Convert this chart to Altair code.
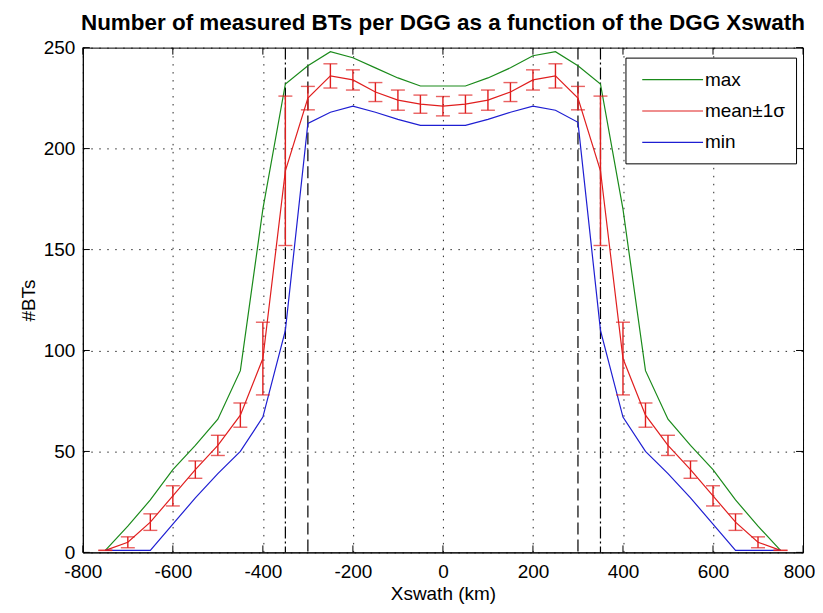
import altair as alt
import pandas as pd

# ---- data ----
xswath = list(range(-750, 751, 50))
bt_max = [1, 13, 26, 41, 53, 66, 90, 170, 232, 241, 248, 245, 240, 235, 231, 231,
          231, 235, 240, 246, 248, 241, 232, 170, 90, 66, 53, 41, 26, 13, 1]
bt_mean = [1, 5, 15, 28, 41, 53, 68, 96, 189, 225, 236, 234, 228, 224, 222, 221,
           222, 224, 228, 234, 236, 225, 189, 96, 68, 53, 41, 28, 15, 5, 1]
bt_std = [0, 2.7, 4.1, 5, 4.3, 5, 6, 18, 37, 5.8, 6, 5, 4.7, 5, 4.5, 4.8,
          4.5, 5, 4.7, 5, 6, 5.8, 37, 18, 6, 5, 4.3, 5, 4.1, 2.7, 0]
bt_min = [1, 1, 1, 14, 27, 39, 50, 67, 110, 212.5, 218, 221, 218, 214.5, 211.5, 211.5,
          211.5, 214.5, 218, 221, 219, 213, 110, 67, 50, 39, 27, 14, 1, 1, 1]

series_names = ["max", "mean\u00b11\u03c3", "min"]
series_colors = ["#1a8a1a", "#e01e1e", "#1e1ed2"]
x_ticks = [-800, -600, -400, -200, 0, 200, 400, 600, 800]
y_ticks = [0, 50, 100, 150, 200, 250]
dashed_x = [-300, 300]
dashdot_x = [-350, 350]

W, H = 722, 506
FONT = "Liberation Sans"

rows = []
for name, vals in zip(series_names, [bt_max, bt_mean, bt_min]):
    for x, v in zip(xswath, vals):
        rows.append({"x": x, "y": v, "series": name})
long_df = pd.DataFrame(rows)

err_df = pd.DataFrame({
    "x": xswath,
    "lo": [m - s for m, s in zip(bt_mean, bt_std)],
    "hi": [m + s for m, s in zip(bt_mean, bt_std)],
})

xscale = alt.Scale(domain=[-800, 800], nice=False, zero=False)
yscale = alt.Scale(domain=[0, 250], nice=False)

common = dict(grid=True, gridDash=[1.5, 6.5], gridColor="black", gridOpacity=0.85,
              tickSize=0, labelFontSize=19, titleFontSize=19, labelFont=FONT,
              titleFont=FONT, titleFontWeight="normal", labelColor="black",
              titleColor="black", domainColor="black", labelFlush=False,
              labelExpr="'' + datum.value")
xaxis = alt.Axis(values=x_ticks, title="Xswath (km)", labelPadding=10, titlePadding=3,
                 labelOffset={"condition": {"test": "datum.value == 800", "value": -4}, "value": 0},
                 **common)
yaxis = alt.Axis(values=y_ticks, title="#BTs", labelPadding=8, titlePadding=5, **common)

base = alt.Chart(long_df)

lines = base.mark_line(strokeWidth=1.2).encode(
    x=alt.X("x:Q", scale=xscale, axis=xaxis),
    y=alt.Y("y:Q", scale=yscale, axis=yaxis),
    color=alt.Color("series:N",
                    scale=alt.Scale(domain=series_names, range=series_colors),
                    legend=alt.Legend(title=None, orient="none", legendX=544, legendY=10,
                                      strokeColor="black", fillColor="white", padding=11,
                                      symbolType="M-3,0H3", symbolSize=413,
                                      symbolOffset=25.3, symbolStrokeWidth=1.2,
                                      labelFontSize=19, labelFont=FONT, labelColor="black",
                                      labelOffset=21.4, rowPadding=10.5)),
)

err = alt.Chart(err_df)
bars = err.mark_rule(color="#e01e1e", strokeWidth=1.4).encode(
    x=alt.X("x:Q", scale=xscale), y=alt.Y("lo:Q", scale=yscale), y2="hi:Q")
cap_lo = err.mark_tick(color="#e01e1e", orient="horizontal", size=14, thickness=1.4).encode(
    x=alt.X("x:Q", scale=xscale), y=alt.Y("lo:Q", scale=yscale))
cap_hi = err.mark_tick(color="#e01e1e", orient="horizontal", size=14, thickness=1.4).encode(
    x=alt.X("x:Q", scale=xscale), y=alt.Y("hi:Q", scale=yscale))

dashed = alt.Chart(pd.DataFrame({"x": dashed_x})).mark_rule(
    color="black", strokeWidth=1.2, strokeDash=[12, 5]).encode(
    x=alt.X("x:Q", scale=xscale), y=alt.value(0), y2=alt.value(H))
dashdot = alt.Chart(pd.DataFrame({"x": dashdot_x})).mark_rule(
    color="black", strokeWidth=1.2, strokeDash=[12, 3, 2, 3]).encode(
    x=alt.X("x:Q", scale=xscale), y=alt.value(0), y2=alt.value(H))

xt = alt.Chart(pd.DataFrame({"x": x_ticks}))
yt = alt.Chart(pd.DataFrame({"y": y_ticks}))
TL = 7
tick_b = xt.mark_rule(color="black").encode(x=alt.X("x:Q", scale=xscale), y=alt.value(H), y2=alt.value(H - TL))
tick_t = xt.mark_rule(color="black").encode(x=alt.X("x:Q", scale=xscale), y=alt.value(0), y2=alt.value(TL))
tick_l = yt.mark_rule(color="black").encode(y=alt.Y("y:Q", scale=yscale), x=alt.value(0), x2=alt.value(TL))
tick_r = yt.mark_rule(color="black").encode(y=alt.Y("y:Q", scale=yscale), x=alt.value(W), x2=alt.value(W - TL))

chart = alt.layer(
    dashed, dashdot, tick_b, tick_t, tick_l, tick_r, lines, bars, cap_lo, cap_hi
).properties(
    width=W, height=H,
    title=alt.TitleParams("Number of measured BTs per DGG as a function of the DGG Xswath",
                          fontSize=22.5, fontWeight="bold", font=FONT, anchor="middle",
                          color="black", offset=4),
    autosize=alt.AutoSizeParams(type="none"),
    padding={"left": 75, "top": 39, "right": 12, "bottom": 52},
    background="white",
).configure_view(stroke="black", strokeWidth=1)

chart.save("out.html", embed_options={"renderer": "svg", "actions": False})
